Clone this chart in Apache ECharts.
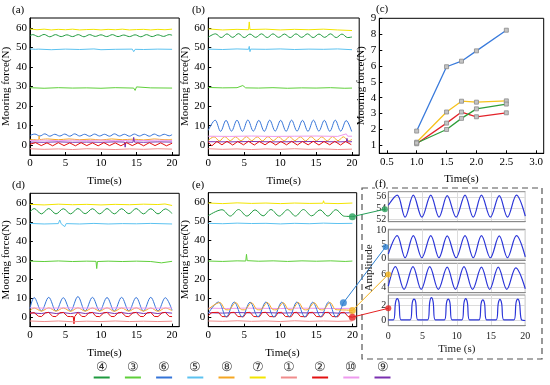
<!DOCTYPE html>
<html><head><meta charset="utf-8">
<script src="https://cdn.jsdelivr.net/npm/echarts/dist/echarts.min.js"></script>
<style>html,body{margin:0;padding:0;background:#fff}#c{width:550px;height:385px}</style>
</head><body><div id="c"></div>
<script>
// ---------- DATA ----------
const legendLabels = ['④','③','⑥','⑤','⑧','⑦','①','②','⑩','⑨'];
const legendKeys   = ['s4','s3','s6','s5','s8','s7','s1','s2','s10','s9'];
const timeTicks = [0,5,10,15,20];
const forceTicks = [0,10,20,30,40,50,60];

// panel (a)
const a7 = [[0,59.4],[1,59.0],[2,59.3],[3,58.9],[4,59.2],[5,59.0],[6,59.3],[7,58.9],[8,59.1],[9,59.2],[10,58.9],[11,59.2],[12,59.0],[13,59.3],[14,58.9],[15,59.1],[16,59.2],[17,58.9],[18,59.2],[19,59.0],[20,59.3]];
const a4 = [[0,56.0],[0.4,56.5],[1.2,55.5],[2.0,56.6],[2.8,55.4],[3.6,56.5],[4.4,55.5],[5.2,56.4],[6.0,55.5],[6.8,56.5],[7.6,55.4],[8.4,56.5],[9.2,55.6],[10.0,56.4],[10.8,55.5],[11.6,56.5],[12.4,55.5],[13.2,56.3],[14.0,55.5],[14.8,56.4],[15.6,55.4],[16.4,56.5],[17.2,55.5],[18.0,56.4],[18.8,55.6],[19.6,56.5],[20,56.2]];
const a5 = [[0,49.2],[0.8,49.0],[1.0,48.0],[1.2,49.1],[3,48.8],[5,49.1],[7,48.9],[9,49.2],[10,48.8],[12,49.0],[14.4,49.1],[14.6,47.8],[14.8,49.0],[16,48.9],[18,49.1],[20,49.0]];
const a3 = [[0,29.4],[2,29.1],[4,29.4],[6,29.2],[8,29.3],[10,29.1],[12,29.4],[14.6,29.2],[14.8,28.0],[15.0,29.8],[15.2,29.2],[17,29.3],[20,29.2]];
const a6 = [[0,5.0],[0.7,5.7],[1.4,4.7],[2.1,5.8],[2.8,4.6],[3.5,5.6],[4.2,4.7],[4.9,5.7],[5.6,4.6],[6.3,5.8],[7.0,4.7],[7.7,5.6],[8.4,4.6],[9.1,5.7],[9.8,4.7],[10.5,5.6],[11.2,4.6],[11.9,5.8],[12.6,4.7],[13.3,5.6],[14.0,4.6],[14.7,5.7],[15.4,4.7],[16.1,5.6],[16.8,4.6],[17.5,5.7],[18.2,4.7],[18.9,5.6],[19.6,4.8],[20,5.4]];
const a8 = [[0,3.0],[1.2,2.7],[1.3,4.8],[1.4,2.9],[2.5,3.2],[4,2.8],[5.5,3.2],[7,2.8],[8.5,3.1],[10,2.7],[11.5,3.2],[13,2.8],[14.5,3.1],[16,2.7],[17.5,3.2],[19,2.8],[20,3.0]];
const a10 = [[0,2.4],[2,2.6],[4,2.3],[6,2.6],[8,2.4],[10,2.6],[12,2.3],[14,2.5],[16,2.4],[18,2.6],[20,2.4]];
const a9 = [[0,1.6],[2,1.5],[4,1.7],[6,1.5],[8,1.6],[10,1.5],[12,1.7],[13.3,1.6],[13.4,-1.0],[13.5,1.6],[14.5,1.5],[14.6,4.0],[14.7,1.6],[16,1.5],[18,1.7],[20,1.6]];
const a2 = [[0,0.5],[0.8,1.3],[1.6,-0.2],[2.4,1.2],[3.2,-0.3],[4.0,1.3],[4.8,-0.2],[5.6,1.2],[6.4,-0.3],[7.2,1.3],[8.0,-0.2],[8.8,1.2],[9.6,-0.3],[10.4,1.3],[11.2,-0.2],[12.0,1.2],[12.8,-0.3],[13.6,1.3],[14.4,-0.2],[15.2,1.2],[16.0,-0.3],[16.8,1.3],[17.6,-0.2],[18.4,1.2],[19.2,-0.3],[20,1.0]];
const a1 = [[0,-1.8],[2,-2.1],[4,-1.9],[6,-2.2],[8,-1.8],[10,-2.0],[12,-2.2],[14,-1.9],[16,-2.1],[18,-1.8],[20,-2.0]];

// panel (b)
const b7 = [[0,59.4],[2,58.9],[4,59.2],[5.6,59.0],[5.7,63.0],[5.8,59.1],[8,59.3],[10,58.9],[12,59.2],[14,59.0],[16,59.3],[18,58.9],[20,58.6]];
const b4 = [[0,55.2],[1.0,56.9],[1.8,55.0],[2.6,56.9],[3.4,55.1],[4.2,57.0],[5.0,55.0],[5.8,56.8],[6.6,55.1],[7.4,56.9],[8.2,55.0],[9.0,56.9],[9.8,55.1],[10.6,56.8],[11.4,55.0],[12.2,56.9],[13.0,55.1],[13.8,56.9],[14.6,55.0],[15.4,56.8],[16.2,55.1],[17.0,56.9],[17.8,55.0],[18.6,56.8],[19.4,55.0],[20,55.3]];
const b5 = [[0,49.1],[2,48.9],[4,49.2],[5.6,49.0],[5.7,50.5],[5.8,47.8],[5.9,49.1],[8,49.0],[10,49.2],[12,48.9],[14,49.1],[16,49.0],[18,49.2],[20,48.8]];
const b3 = [[0,29.5],[2,29.3],[4,29.4],[4.8,30.5],[5.2,29.3],[7,29.2],[9,29.4],[11,29.1],[13,29.3],[15,29.2],[17,29.4],[19,29.1],[20,29.2]];
const b6 = [[0,7.6],[0.95,12.8],[1.71,7.1],[2.47,12.7],[3.23,7.2],[3.99,12.8],[4.75,7.1],[5.51,12.9],[6.27,7.2],[7.03,12.7],[7.79,7.1],[8.55,12.8],[9.31,7.2],[10.07,12.7],[10.83,7.1],[11.59,12.8],[12.35,7.2],[13.11,12.7],[13.87,7.1],[14.63,12.8],[15.39,7.2],[16.15,12.7],[16.91,7.1],[17.67,12.8],[18.43,7.2],[19.19,12.6],[19.95,7.0]];
const b8 = [[0,2.5],[0.8,4.3],[1.55,2.2],[2.3,4.4],[3.05,2.3],[3.8,4.3],[4.55,2.2],[5.3,4.4],[6.05,2.3],[6.8,4.3],[7.55,2.2],[8.3,4.4],[9.05,2.3],[9.8,4.3],[10.55,2.2],[11.3,4.4],[12.05,2.3],[12.8,4.3],[13.55,2.2],[14.3,4.4],[15.05,2.3],[15.8,4.3],[16.55,2.2],[17.3,4.4],[18.05,2.3],[18.8,4.3],[19.55,2.2],[20,3.0]];
const b10 = [[0,4.6],[3,4.5],[6,4.7],[9,4.5],[12,4.6],[15,4.7],[18,4.5],[19.2,5.8],[19.4,4.6],[20,4.6]];
const b9 = [[0,1.8],[3,1.7],[6,1.9],[9,1.7],[12,1.8],[15,1.9],[18,1.7],[19.2,1.8],[19.3,3.5],[19.4,1.7],[20,1.8]];
const b2 = [[0,1.5],[0.5,-0.3],[1.2,1.9],[1.9,0.2],[2.6,2.0],[3.4,0.1],[4.1,1.9],[4.9,0.2],[5.6,2.0],[6.4,0.1],[7.1,1.9],[7.9,0.2],[8.6,2.0],[9.4,0.1],[10.1,1.9],[10.9,0.2],[11.6,2.0],[12.4,0.1],[13.1,1.9],[13.9,0.2],[14.6,2.0],[15.4,0.1],[16.1,1.9],[16.9,0.2],[17.6,2.0],[18.4,0.1],[19.1,1.9],[19.9,0.3]];
const b1 = [[0,-1.8],[2,-2.1],[4,-1.9],[6,-2.2],[8,-1.9],[10,-2.1],[12,-1.8],[14,-2.1],[16,-1.9],[18,-2.2],[20,-2.0]];

// panel (c)
const cX  = [1.0,1.5,1.75,2.0,2.5];
const cS6 = [1.9,5.95,6.3,6.95,8.25];
const cS7 = [1.2,3.1,3.78,3.72,3.8];
const cS2 = [1.1,2.4,3.1,2.8,3.05];
const cS4 = [1.15,2.0,2.7,3.3,3.6];
const cXTicks = [0.5,1.0,1.5,2.0,2.5,3.0];
const cYTicks = [1,2,3,4,5,6,7,8,9];

// panel (d)
const d7 = [[0,59.2],[2,58.9],[4,59.3],[6,59.0],[8,59.2],[10,58.9],[12,59.2],[14,59.0],[16,59.3],[18,59.1],[19,59.4],[20,58.6]];
const d4 = [[0,55.2],[0.6,57.0],[1.62,54.2],[2.65,57.0],[3.67,54.2],[4.7,56.9],[5.72,54.2],[6.75,57.0],[7.77,54.3],[8.8,56.9],[9.82,54.2],[10.85,57.0],[11.87,54.2],[12.9,56.9],[13.92,54.3],[14.95,57.0],[15.97,54.2],[17.0,56.9],[18.02,54.2],[19.05,56.8],[20,54.4]];
const d5 = [[0,49.2],[2,48.9],[4,49.1],[4.2,51.0],[4.4,49.0],[4.9,47.5],[5.1,49.1],[7,48.9],[9,49.2],[11,48.9],[13,49.1],[15,49.0],[17,49.2],[20,48.9]];
const d3 = [[0,29.4],[2,29.2],[4,29.5],[6,29.2],[8,29.4],[9.3,29.3],[9.4,25.5],[9.5,29.2],[11,29.4],[13,29.2],[15,29.4],[17,29.2],[18.5,28.5],[20,29.3]];
const d6 = [[0,4.5],[0.6,10.3],[1.62,3.3],[2.65,10.4],[3.67,3.2],[4.7,10.2],[5.72,3.3],[6.75,10.8],[7.77,3.2],[8.8,10.4],[9.82,3.3],[10.85,10.3],[11.87,3.2],[12.9,10.4],[13.92,3.3],[14.95,10.3],[15.97,3.2],[17.0,10.4],[18.02,3.3],[19.05,10.2],[20,3.6]];
const d8 = [[0,3.4],[0.6,4.8],[1.62,3.2],[2.65,4.9],[3.67,3.2],[4.7,4.8],[5.72,3.1],[6.75,4.9],[7.77,3.2],[8.8,4.8],[9.82,3.2],[10.85,4.9],[11.87,3.1],[12.9,4.8],[13.92,3.2],[14.95,4.9],[15.97,3.2],[17.0,4.8],[18.02,3.1],[19.05,4.8],[20,3.4]];
const d10 = [[0,4.9],[2.5,4.7],[5,4.9],[7.5,4.8],[10,4.7],[12.5,4.9],[15,4.8],[17.5,4.7],[20,4.9]];
const d9 = [[0,2.3],[1.6,1.9],[2.6,2.5],[3.7,1.9],[4.7,2.4],[5.7,1.9],[6.8,2.5],[7.8,1.9],[8.8,2.4],[9.8,1.9],[10.9,2.5],[11.9,1.9],[12.9,2.4],[13.9,1.9],[15,2.5],[16,1.9],[17,2.4],[18,1.9],[19,2.5],[20,2.1]];
const d2 = [[0,2.0],[0.6,2.4],[1.2,0.5],[1.62,0.3],[2.2,2.3],[2.65,2.5],[3.2,0.4],[3.67,0.3],[4.2,2.3],[4.7,2.5],[5.3,0.4],[5.72,0.3],[6.1,0.3],[6.2,-3.5],[6.3,0.3],[6.75,2.5],[7.3,0.4],[7.77,0.3],[8.3,2.3],[8.8,2.5],[9.3,0.4],[9.82,0.3],[10.4,2.3],[10.85,2.5],[11.4,0.4],[11.87,0.3],[12.4,2.3],[12.9,2.5],[13.5,0.4],[13.92,0.3],[14.5,2.3],[14.95,2.5],[15.5,0.4],[15.97,0.3],[16.5,2.3],[17.0,2.5],[17.5,0.4],[18.02,0.3],[18.6,2.3],[19.05,2.5],[19.6,0.4],[20,0.3]];
const d1 = [[0,-2.0],[2,-2.3],[4,-2.0],[6,-2.4],[8,-2.1],[10,-2.3],[12,-2.0],[14,-2.3],[16,-2.1],[18,-2.3],[20,-2.1]];

// panel (e)
const e7 = [[0,59.6],[2,59.3],[4,59.7],[6,59.4],[8,59.6],[10,59.3],[12,59.6],[14,59.4],[15.9,59.5],[16.0,60.8],[16.1,59.5],[18,59.3],[20,59.6]];
const e4 = [[0,53.0],[1.9,56.1],[3.05,52.8],[4.2,56.2],[5.35,52.8],[6.5,56.0],[7.6,52.9],[8.7,56.2],[9.85,52.8],[11.0,56.1],[12.1,52.8],[13.2,56.2],[14.35,52.9],[15.5,56.0],[16.6,52.8],[17.7,56.1],[18.9,52.7],[20,52.6]];
const e5 = [[0,49.0],[2,48.8],[4,49.1],[6,48.9],[8,49.0],[10,48.7],[12,49.0],[14,48.8],[16,49.1],[18,48.9],[20,49.0]];
const e3 = [[0,29.3],[2,29.1],[4,29.4],[5.2,29.3],[5.3,32.8],[5.4,29.5],[7,29.2],[9,29.4],[11,29.1],[13,29.4],[15,29.2],[17,29.4],[19,29.1],[20,29.3]];
const e6 = [[0,2.0],[1.4,7.9],[2.5,0.1],[3.6,7.9],[4.7,0.1],[5.8,7.8],[6.9,0.2],[8.0,7.9],[9.1,0.1],[10.2,7.8],[11.25,0.2],[12.3,7.9],[13.4,0.1],[14.5,7.8],[15.6,0.2],[16.7,7.9],[17.7,0.1],[18.75,7.5]];
const e8 = [[0,4.1],[1.6,7.6],[2.4,3.9],[2.8,3.8],[3.8,7.6],[4.6,3.9],[5.0,3.8],[6.0,7.5],[6.8,3.9],[7.2,3.8],[8.2,7.6],[9.0,3.9],[9.4,3.8],[10.4,7.5],[11.15,3.9],[11.55,3.8],[12.5,7.6],[13.3,3.9],[13.7,3.8],[14.7,7.5],[15.5,3.9],[15.9,3.8],[16.9,7.6],[17.7,3.9],[18.3,3.8],[19.2,3.7],[20,3.5]];
const e10 = [[0,4.7],[2.5,4.5],[5,4.7],[7.5,4.6],[10,4.5],[12.5,4.7],[15,4.6],[17.5,4.5],[20,4.6]];
const e9 = [[0,2.3],[2,2.1],[4,2.4],[6,2.2],[8,2.4],[10,2.1],[12,2.3],[14,2.2],[16,2.4],[18,2.1],[20,2.3]];
const e2 = [[0,0.8],[0.5,2.4],[1.4,2.5],[1.9,0.3],[2.7,0.2],[3.1,2.4],[3.6,2.5],[4.1,0.3],[4.9,0.2],[5.3,2.4],[5.8,2.5],[6.3,0.3],[7.1,0.2],[7.5,2.4],[8.0,2.5],[8.5,0.3],[9.3,0.2],[9.7,2.4],[10.2,2.5],[10.7,0.3],[11.5,0.2],[11.9,2.4],[12.3,2.5],[12.8,0.3],[13.6,0.2],[14.0,2.4],[14.5,2.5],[15.0,0.3],[15.8,0.2],[16.2,2.4],[16.7,2.5],[17.2,0.3],[18.0,0.2],[18.4,2.4],[18.9,2.5],[19.4,0.3],[20,0.0]];
const e1 = [[0,-2.0],[2,-2.2],[4,-1.9],[6,-2.2],[8,-2.0],[10,-2.3],[12,-1.9],[14,-2.2],[16,-2.0],[18,-2.2],[20,-2.0]];

// marked points in (e) and their zoomed counterparts in (f)
const eMarks = {s4:[20,52.5], s6:[18.75,7.5], s8:[20,3.5], s2:[20,0.0]};
const fMarks = {s4:[-0.5,53.8], s6:[-0.4,4.0], s8:[0,6.0], s2:[0,1.65]};

// panel (f)
const f1 = [[0,54.5],[1.3,56.3],[2.45,52.4],[3.65,56.3],[4.9,52.4],[6.2,56.3],[7.4,52.4],[8.6,56.2],[9.9,52.4],[11.2,56.3],[12.4,52.4],[13.6,56.3],[14.9,52.4],[16.2,56.2],[17.4,52.4],[18.7,56.3],[20,52.6]];
const f2 = [[0,1.5],[1.3,8.0],[2.45,0.2],[3.65,8.0],[4.9,0.2],[6.2,8.0],[7.4,0.2],[8.6,7.9],[9.9,0.2],[11.2,8.0],[12.4,0.2],[13.6,8.0],[14.9,0.2],[16.2,7.9],[17.4,0.2],[18.7,8.0],[20,0.5]];
const f3 = [[0,4.2],[1.05,7.2],[2.3,3.7],[3.6,7.2],[4.8,3.7],[6.05,7.2],[7.3,3.7],[8.6,7.1],[9.8,3.7],[11.05,7.2],[12.3,3.7],[13.6,7.1],[14.8,3.7],[16.05,7.1],[17.3,3.7],[18.6,7.0],[20,3.8]];
const f4 = [[0,0.1],[0.75,0.1],[1.05,2.4],[1.3,2.95],[1.55,2.5],[1.85,0.1],[3.2,0.1],[3.5,2.4],[3.75,2.9],[4.0,2.5],[4.3,0.1],[5.75,0.1],[6.05,2.5],[6.3,3.1],[6.55,2.5],[6.85,0.1],[8.2,0.1],[8.5,2.4],[8.75,2.9],[9.0,2.4],[9.3,0.1],[10.75,0.1],[11.05,2.4],[11.3,2.95],[11.55,2.4],[11.85,0.1],[13.25,0.1],[13.55,2.3],[13.8,2.8],[14.05,2.3],[14.35,0.1],[15.75,0.1],[16.05,2.3],[16.3,2.85],[16.55,2.3],[16.85,0.1],[18.35,0.1],[18.65,2.4],[18.9,2.9],[19.15,2.4],[19.45,0.1],[20,0.0]];
const fTicks = [[52,54,56],[0,5,10],[4,6],[0,2,3]];
const fRanges = [[51.6,56.9],[-0.6,10.25],[3.2,7.7],[-0.7,3.45]];

// ---------- STYLE ----------
const FONT = '"Liberation Serif","Times New Roman",serif';
const COL = {s1:'#f08c8c', s2:'#e31010', s3:'#5fcf3a', s4:'#1f9a3f', s5:'#5cc2f0', s6:'#3574d8',
             s7:'#f2e400', s8:'#f5a623', s9:'#7b30b0', s10:'#ee9aee'};
const C_COL = {s6:'#3a7bdc', s7:'#f6c21c', s2:'#e3232a', s4:'#2e9e3a'};
const LINK_COL = {s4:'#27a05a', s6:'#2d7fd0', s8:'#f3b31a', s2:'#e52222'};
const F_LINE = '#2b35d8';

const panels = [
  {s7:a7,s4:a4,s5:a5,s3:a3,s6:a6,s8:a8,s10:a10,s9:a9,s2:a2,s1:a1},
  {s7:b7,s4:b4,s5:b5,s3:b3,s6:b6,s8:b8,s10:b10,s9:b9,s2:b2,s1:b1},
  null,
  {s7:d7,s4:d4,s5:d5,s3:d3,s6:d6,s8:d8,s10:d10,s9:d9,s2:d2,s1:d1},
  {s7:e7,s4:e4,s5:e5,s3:e3,s10:e10,s9:e9,s1:e1,s2:e2,s6:e6,s8:e8}
];
const smoothKeys = {s4:true, s6:true, s8:true};

const grids = [
  {left:28.3, top:18, width:150.9, height:137},
  {left:208.3, top:18, width:150.9, height:137},
  {left:379.3, top:18.3, width:164.4, height:135},
  {left:28.3, top:193.3, width:150.9, height:133.4},
  {left:208.3, top:192.7, width:148.4, height:134},
  {left:388.3, top:191.7, width:137, height:30},
  {left:388.3, top:229.3, width:137, height:30.7},
  {left:388.3, top:263.3, width:137, height:29.4},
  {left:388.3, top:295, width:137, height:30.7}
].map(g => Object.assign({show:true, borderColor:'#000', borderWidth:1, containLabel:false}, g));
for (let i = 5; i < 9; i++) { grids[i].borderColor = '#8a8a8a'; }

const txt = {fontFamily:FONT, color:'#000', fontSize:11};
const xAxes = [], yAxes = [];
function timeAxes(gi, xmax) {
  xAxes.push({gridIndex:gi, type:'value', min:0, max:xmax,
    axisLine:{show:true, onZero:false, lineStyle:{color:'#000', width:1}},
    axisTick:{show:true, inside:true, length:3, customValues:timeTicks, lineStyle:{color:'#000'}},
    axisLabel:Object.assign({customValues:timeTicks, margin:3}, txt),
    splitLine:{show:false},
    name:'Time(s)', nameLocation:'middle', nameGap:21, nameTextStyle:txt});
  yAxes.push({gridIndex:gi, type:'value', min:-5, max:65,
    axisLine:{show:true, onZero:false, lineStyle:{color:'#000', width:1}},
    axisTick:{show:true, inside:true, length:3, customValues:forceTicks, lineStyle:{color:'#000'}},
    axisLabel:Object.assign({customValues:forceTicks, margin:3}, txt),
    splitLine:{show:false},
    name:'Mooring force(N)', nameLocation:'middle', nameGap:12.5, nameTextStyle:txt});
}
timeAxes(0, 21); timeAxes(1, 21);
// (c)
xAxes.push({gridIndex:2, type:'value', min:0.375, max:3.125,
  axisLine:{show:true, onZero:false, lineStyle:{color:'#000'}},
  axisTick:{show:true, inside:true, length:3, customValues:cXTicks},
  axisLabel:Object.assign({customValues:cXTicks, margin:3, formatter:v=>v.toFixed(1)}, txt),
  splitLine:{show:false},
  name:'Time(s)', nameLocation:'middle', nameGap:20, nameTextStyle:txt});
yAxes.push({gridIndex:2, type:'value', min:0.5, max:9,
  axisLine:{show:true, onZero:false, lineStyle:{color:'#000'}},
  axisTick:{show:true, inside:true, length:3, customValues:cYTicks},
  axisLabel:Object.assign({customValues:cYTicks, margin:3}, txt),
  splitLine:{show:false},
  name:'Mooring force(N)', nameLocation:'middle', nameGap:4, nameTextStyle:txt});
timeAxes(3, 21); timeAxes(4, 20.6);
// (f)
const ftxt = {fontFamily:FONT, color:'#222', fontSize:10};
for (let k = 0; k < 4; k++) {
  xAxes.push({gridIndex:5+k, type:'value', min:0, max:20, interval:5,
    axisLine:{show:true, onZero:false, lineStyle:{color:'#8a8a8a'}},
    axisTick:{show:false},
    axisLabel:Object.assign({show:k===3, margin:6}, ftxt),
    splitLine:{show:true, lineStyle:{color:'#dcdcdc', width:1}},
    name: k===3 ? 'Time (s)' : '', nameLocation:'middle', nameGap:18, nameTextStyle:Object.assign({}, ftxt, {fontSize:11})});
  yAxes.push({gridIndex:5+k, type:'value', min:fRanges[k][0], max:fRanges[k][1],
    axisLine:{show:true, onZero:false, lineStyle:{color:'#8a8a8a'}},
    axisTick:{show:false, customValues:fTicks[k]},
    axisLabel:Object.assign({customValues:fTicks[k], margin:2}, ftxt),
    splitLine:{show:true, lineStyle:{color:'#dcdcdc', width:1}}});
}

const series = [];
panels.forEach((p, gi) => {
  if (!p) return;
  Object.keys(p).forEach(k => {
    series.push({type:'line', xAxisIndex:gi, yAxisIndex:gi, data:p[k], showSymbol:false,
      smooth: smoothKeys[k] ? 0.35 : false, lineStyle:{color:COL[k], width:1}, itemStyle:{color:COL[k]},
      animation:false, silent:true, z:3});
  });
});
// (c)
[['s6',cS6],['s7',cS7],['s2',cS2],['s4',cS4]].forEach(([k, vals]) => {
  series.push({type:'line', xAxisIndex:2, yAxisIndex:2, data:cX.map((x,i)=>[x, vals[i]]),
    symbol:'rect', symbolSize:4, showSymbol:true,
    lineStyle:{color:C_COL[k], width:1.3},
    itemStyle:{color:'#c4c4c4', borderColor:'#8a8a8a', borderWidth:0.8},
    animation:false, silent:true, z:3});
});
// (f)
[f1,f2,f3,f4].forEach((d, k) => {
  series.push({type:'line', xAxisIndex:5+k, yAxisIndex:5+k, data:d, showSymbol:false,
    smooth:0.35, lineStyle:{color:F_LINE, width:1.2}, animation:false, silent:true, z:3});
});
// marker dots
const markOrder = ['s4','s6','s8','s2'];
markOrder.forEach((k, i) => {
  series.push({type:'scatter', xAxisIndex:4, yAxisIndex:4, data:[eMarks[k]], symbolSize:7,
    itemStyle:{color:LINK_COL[k]}, animation:false, silent:true, z:6, clip:false});
  series.push({type:'scatter', xAxisIndex:5+i, yAxisIndex:5+i, data:[fMarks[k]], symbolSize:6,
    itemStyle:{color:LINK_COL[k]}, animation:false, silent:true, z:6, clip:false});
});

const chart = echarts.init(document.getElementById('c'), null, {renderer:'canvas'});
chart.setOption({
  animation:false,
  textStyle:{fontFamily:FONT},
  grid:grids, xAxis:xAxes, yAxis:yAxes, series:series
});

// graphics: panel labels, dashed box, Amplitude label, legend, connector lines
const panelLabels = ['(a)','(b)','(c)','(d)','(e)','(f)'];
const labelPos = [[12,5],[192,5],[376,4],[12,180],[192,180],[375,179]];
const g = [];
panelLabels.forEach((t, i) => g.push({type:'text', left:labelPos[i][0], top:labelPos[i][1], z:20,
  style:{text:t, font:'11px ' + FONT, fill:'#000', backgroundColor: i===5 ? '#fff' : null}}));
g.push({type:'rect', shape:{x:362, y:188, width:180, height:171}, z:1,
  style:{fill:null, stroke:'#555', lineWidth:1.2, lineDash:[6,4]}});
g.push({type:'text', x:364, y:268, rotation:Math.PI/2, z:20,
  style:{text:'Amplitude', font:'11px ' + FONT, fill:'#222', align:'center', verticalAlign:'top'}});
legendLabels.forEach((t, i) => {
  const cx = 101.7 + i * 31.2;
  g.push({type:'text', x:cx, y:368, z:20,
    style:{text:t, font:'13px ' + FONT, fill:'#333', align:'center', verticalAlign:'middle'}});
  g.push({type:'line', shape:{x1:cx-8, y1:377.5, x2:cx+8, y2:377.5}, z:20,
    style:{stroke:COL[legendKeys[i]], lineWidth:2}});
});
markOrder.forEach((k, i) => {
  const p1 = chart.convertToPixel({gridIndex:4}, eMarks[k]);
  const p2 = chart.convertToPixel({gridIndex:5+i}, fMarks[k]);
  g.push({type:'line', shape:{x1:p1[0], y1:p1[1], x2:p2[0], y2:p2[1]}, z:5,
    style:{stroke:LINK_COL[k], lineWidth:1}});
});
chart.setOption({graphic:g});
</script>
</body></html>
